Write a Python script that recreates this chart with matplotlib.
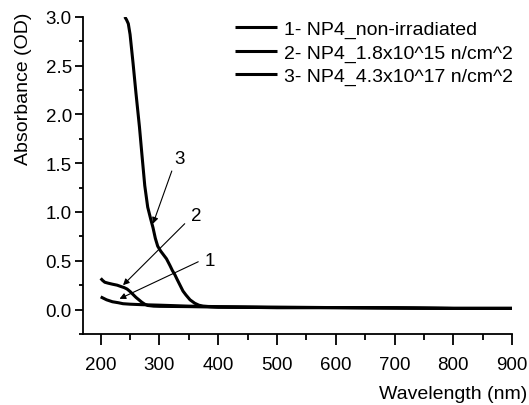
import matplotlib.pyplot as plt

plt.rcParams['font.family'] = ['Liberation Sans', 'DejaVu Sans']

# curve 1 - non-irradiated
wl1 = [200, 205, 210, 215, 220, 230, 238, 250, 270, 300, 350, 400, 500, 600, 700, 800, 900]
a1 = [0.13, 0.115, 0.10, 0.09, 0.08, 0.07, 0.06, 0.055, 0.05, 0.045, 0.035, 0.03, 0.025, 0.02, 0.018, 0.012, 0.012]

# curve 2 - 1.8e15
wl2 = [200, 203, 207, 213, 220, 228, 235, 240, 245, 250, 255, 260, 265, 270, 275, 280,
       290, 300, 350, 400, 500, 600, 700, 800, 900]
a2 = [0.32, 0.30, 0.28, 0.27, 0.26, 0.25, 0.235, 0.225, 0.21, 0.185, 0.155, 0.125, 0.10, 0.075, 0.055, 0.042,
      0.035, 0.033, 0.03, 0.025, 0.02, 0.02, 0.015, 0.012, 0.012]

# curve 3 - 4.3e17
wl3 = [241, 244, 247, 250, 255, 260, 266, 270, 275, 280, 285, 289, 293, 297, 302, 307, 312,
       318, 322, 326, 330, 335, 340, 345, 352, 360, 367, 374, 385, 400, 450, 500,
       600, 700, 800, 900]
a3 = [3.0, 2.97, 2.93, 2.82, 2.53, 2.22, 1.87, 1.6, 1.27, 1.05, 0.93, 0.84, 0.73, 0.65, 0.6, 0.56, 0.52,
      0.45, 0.40, 0.36, 0.31, 0.25, 0.19, 0.15, 0.10, 0.065, 0.045, 0.035, 0.03, 0.025, 0.022, 0.02,
      0.02, 0.018, 0.012, 0.012]

labels = ["1- NP4_non-irradiated", "2- NP4_1.8x10^15 n/cm^2", "3- NP4_4.3x10^17 n/cm^2"]

fig = plt.figure(figsize=(5.29, 4.06), dpi=100)
ax = fig.add_axes([0.157, 0.175, 0.811, 0.781])

for wl, a, lab in zip([wl1, wl2, wl3], [a1, a2, a3], labels):
    ax.plot(wl, a, color='black', lw=2.2, label=lab, solid_capstyle='butt')

ax.set_xlim(170, 900)
ax.set_ylim(-0.25, 3.0)
ax.set_xticks(range(200, 901, 100))
ax.set_xticks(range(250, 900, 100), minor=True)
ax.set_yticks([0.0, 0.5, 1.0, 1.5, 2.0, 2.5, 3.0])
ax.set_yticks([-0.25, 0.25, 0.75, 1.25, 1.75, 2.25, 2.75], minor=True)
ax.set_yticklabels(['0.0', '0.5', '1.0', '1.5', '2.0', '2.5', '3.0'])
ax.spines['top'].set_visible(False)
ax.spines['right'].set_visible(False)
for s in ['left', 'bottom']:
    ax.spines[s].set_linewidth(1.3)
ax.tick_params(axis='x', which='major', direction='out', length=8, width=1.3, labelsize=13.5, pad=8)
ax.tick_params(axis='x', which='minor', direction='out', length=4.5, width=1.3)
ax.tick_params(axis='y', which='major', direction='out', length=6, width=1.3, labelsize=13.5, pad=2)
ax.tick_params(axis='y', which='minor', direction='out', length=3, width=1.3)

ax.set_xlabel("Wavelength (nm)", fontsize=14, loc='right')
ax.xaxis.set_label_coords(1.035, -0.16)
ax.set_ylabel("Absorbance (OD)", fontsize=14, loc='top')
ax.yaxis.set_label_coords(-0.12, 1.016)

arrow = dict(arrowstyle='-|>', color='black', lw=0.8, mutation_scale=9, shrinkA=0, shrinkB=0)
ax.annotate("", xy=(289, 0.88), xytext=(321, 1.42), arrowprops=arrow)
ax.text(335, 1.55, "3", fontsize=13.5, ha='center', va='center')
ax.annotate("", xy=(238, 0.25), xytext=(343, 0.88), arrowprops=arrow)
ax.text(363, 0.96, "2", fontsize=13.5, ha='center', va='center')
ax.annotate("", xy=(232, 0.11), xytext=(366, 0.49), arrowprops=arrow)
ax.text(386, 0.50, "1", fontsize=13.5, ha='center', va='center')

fig.legend(loc='upper left', bbox_to_anchor=(0.425, 0.972), frameon=False, fontsize=14,
           handlelength=2.2, handletextpad=0.35, borderpad=0, labelspacing=0.3)

fig.savefig("out.png", dpi=100)
